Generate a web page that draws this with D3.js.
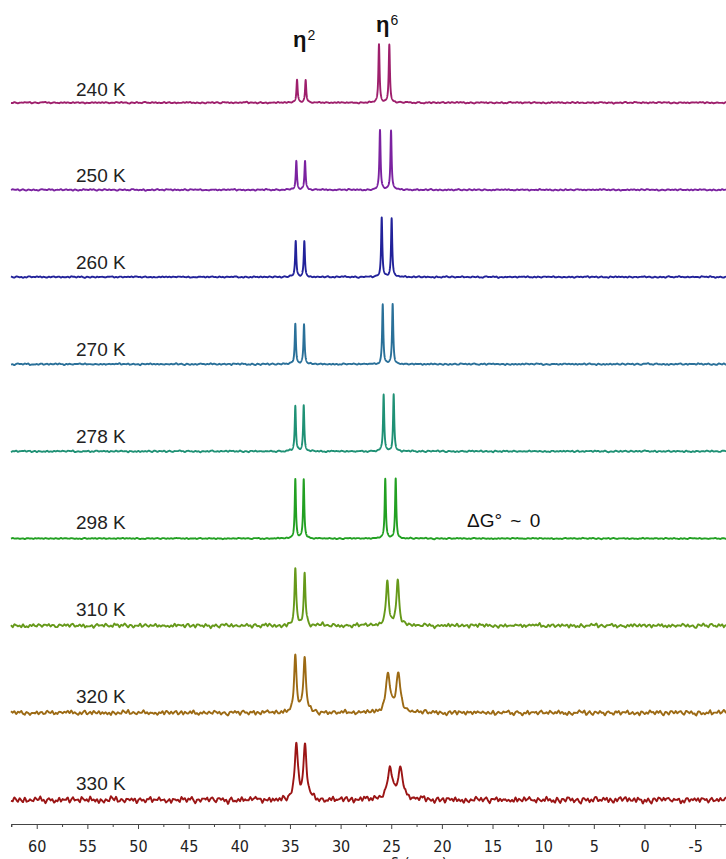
<!DOCTYPE html>
<html>
<head>
<meta charset="utf-8">
<script src="https://cdn.jsdelivr.net/npm/d3@7"></script>
<style>
    body { margin: 0; background: #fff; }
    svg { display: block; }
</style>
</head>
<body>
<div id="chart"></div>
<script>

// temperatures, top to bottom
const temps = ["240 K", "250 K", "260 K", "270 K", "278 K", "298 K", "310 K", "320 K", "330 K"];
const colors = ["#9e1f6c", "#7b22a0", "#22229a", "#2a7099", "#1f9175", "#22a022", "#66991a", "#9c6a14", "#9b1515"];

// eta2 doublet: positions (ppm), heights (relative), half widths (ppm)
const eta2Pos = [[34.30, 33.45], [34.37, 33.51], [34.43, 33.58], [34.47, 33.61], [34.47, 33.64],
                 [34.47, 33.64], [34.47, 33.55], [34.47, 33.55], [34.37, 33.51]];
const eta2Height = [[0.40, 0.40], [0.50, 0.50], [0.61, 0.61], [0.69, 0.69], [0.78, 0.78],
                    [1.02, 1.02], [0.98, 0.91], [0.97, 0.94], [0.96, 0.96]];
const eta2Width = [0.07, 0.07, 0.07, 0.07, 0.07, 0.07, 0.10, 0.15, 0.18];

// eta6 doublet
const eta6Pos = [[26.21, 25.19], [26.11, 25.02], [25.94, 24.96], [25.84, 24.86], [25.75, 24.76],
                 [25.59, 24.56], [25.39, 24.36], [25.32, 24.30], [25.12, 24.11]];
const eta6Height = [[1.00, 1.00], [1.03, 1.03], [1.02, 1.02], [1.02, 1.02], [0.98, 0.98],
                    [1.03, 1.03], [0.76, 0.76], [0.67, 0.63], [0.53, 0.49]];
const eta6Width = [0.07, 0.07, 0.07, 0.07, 0.07, 0.07, 0.16, 0.25, 0.30];

// baseline noise level per spectrum
const noiseLevel = [0.011, 0.011, 0.011, 0.012, 0.012, 0.009, 0.03, 0.034, 0.045];

// hand typed ripple tables for the baseline
const rippleA = [0.3, -0.5, 0.8, -0.2, -0.9, 0.4, 0.1, -0.6, 0.7, 0.2, -0.3, 0.9, -0.7, 0.0, 0.5, -0.4, -0.8,
                 0.6, 0.3, -0.1, 0.8, -0.5, 0.2, -0.9, 0.4, 0.7, -0.3, 0.1, -0.6, 0.5, -0.2, 0.9, -0.8, 0.3,
                 0.0, -0.4, 0.6, -0.7, 0.2, 0.8, -0.5, -0.1, 0.4, -0.9, 0.7, 0.1, -0.3, 0.5, -0.6, 0.9, -0.2,
                 0.3, -0.8];
const rippleB = [-0.4, 0.7, 0.1, -0.8, 0.5, -0.2, 0.9, -0.6, 0.3, 0.0, -0.7, 0.6, -0.1, 0.4, -0.9, 0.8, -0.3,
                 0.2, -0.5, 0.7, -0.8, 0.1, 0.5, -0.4, 0.9, -0.2, -0.6, 0.3, 0.8, -0.7, 0.0, 0.4, -0.3, 0.6,
                 -0.9, 0.2, 0.5];

const majorTicks = [60, 55, 50, 45, 40, 35, 30, 25, 20, 15, 10, 5, 0, -5];
const minorTicks = [62.5, 57.5, 52.5, 47.5, 42.5, 37.5, 32.5, 27.5, 22.5, 17.5, 12.5, 7.5, 2.5, -2.5, -7.5];

const width = 726, height = 859;
const ppmLeft = 62.54, ppmRight = -8.05, step = 0.01;

const x = d3.scaleLinear().domain([ppmLeft, ppmRight]).range([11, 726]);
const base = d3.scalePoint().domain(temps).range([102.7, 800]);
const labelY = d3.scalePoint().domain(temps).range([89, 783]);
const yI = d3.scaleLinear().domain([0, 1]).range([0, 58]);

function lerpTable(table, k, span, shift) {
    const j = Math.floor(k / span), t = (k % span) / span;
    const a = table[(j + shift) % table.length], b = table[(j + 1 + shift) % table.length];
    return a * (1 - t) + b * t;
}

function ripple(k, i) {
    return lerpTable(rippleA, k, 17, 7 * i)
        + 0.6 * lerpTable(rippleB, k, 29, 11 * i)
        + 0.5 * lerpTable(rippleB, k, 110, 5 * i + 3);
}

function spectrum(i) {
    const peaks = [
        [eta2Pos[i][0], eta2Height[i][0], eta2Width[i]],
        [eta2Pos[i][1], eta2Height[i][1], eta2Width[i]],
        [eta6Pos[i][0], eta6Height[i][0], eta6Width[i]],
        [eta6Pos[i][1], eta6Height[i][1], eta6Width[i]]
    ];
    const n = Math.round((ppmLeft - ppmRight) / step);
    const pts = [];
    for (let k = 0; k <= n; k++) {
        const d = ppmLeft - k * step;
        let v = 0;
        for (const [c, h, g] of peaks) v += h * g * g / (g * g + (d - c) * (d - c));
        v += noiseLevel[i] * ripple(k, i);
        pts.push([d, v]);
    }
    return pts;
}

const svg = d3.create("svg")
    .attr("width", width)
    .attr("height", height);

svg.append("rect")
    .attr("width", width)
    .attr("height", height)
    .attr("fill", "#fff");

const traces = svg.append("g").attr("id", "traces");

temps.forEach((t, i) => {
    const line = d3.line()
        .x(d => x(d[0]))
        .y(d => base(t) - yI(d[1]));
    traces.append("path")
        .datum(spectrum(i))
        .attr("d", line)
        .attr("fill", "none")
        .attr("stroke", colors[i])
        .attr("stroke-width", 1.9)
        .attr("stroke-linejoin", "round");
});

svg.append("g")
    .selectAll(null)
    .data(temps)
    .join("text")
    .attr("x", 76)
    .attr("y", d => labelY(d))
    .attr("dominant-baseline", "central")
    .attr("font-family", "'Liberation Sans', Arial, sans-serif")
    .attr("font-size", 19)
    .attr("fill", "#222")
    .text(d => d);

// peak labels
const etaLabels = [["2", 293, 46.5], ["6", 376, 32]];
etaLabels.forEach(([sup, lx, ly]) => {
    const txt = svg.append("text")
        .attr("x", lx)
        .attr("y", ly)
        .attr("font-family", "'Liberation Sans', Arial, sans-serif")
        .attr("font-weight", "bold")
        .attr("font-size", 22)
        .attr("fill", "#111");
    txt.append("tspan").text("η");
    txt.append("tspan")
        .attr("font-size", 14)
        .attr("font-weight", "normal")
        .attr("dy", -7)
        .attr("dx", 1)
        .text(sup);
});

svg.append("text")
    .attr("x", 467)
    .attr("y", 527)
    .attr("font-family", "'Liberation Sans', Arial, sans-serif")
    .attr("font-size", 19)
    .attr("word-spacing", 3)
    .attr("fill", "#111")
    .text("ΔG° ~ 0");

// axis
const axisY = 824;
const axisG = svg.append("g")
    .attr("transform", `translate(0,${axisY})`)
    .call(d3.axisBottom(x).tickValues(majorTicks).tickSize(5).tickSizeOuter(3).tickPadding(12)
        .tickFormat(d => String(d)));
axisG.select(".domain").attr("stroke", "#444");
axisG.selectAll(".tick line").attr("stroke", "#444");
axisG.selectAll(".tick text")
    .attr("font-family", "'DejaVu Sans Condensed', 'DejaVu Sans', sans-serif")
    .attr("font-size", 16)
    .attr("fill", "#222");

const minorG = svg.append("g")
    .attr("transform", `translate(0,${axisY})`)
    .call(d3.axisBottom(x).tickValues(minorTicks).tickSize(3).tickFormat(""));
minorG.select(".domain").remove();
minorG.selectAll(".tick line").attr("stroke", "#444");

svg.append("text")
    .attr("x", 419)
    .attr("y", 869)
    .attr("text-anchor", "middle")
    .attr("font-family", "'DejaVu Sans Condensed', 'DejaVu Sans', sans-serif")
    .attr("font-size", 16)
    .attr("fill", "#222")
    .text("δ (ppm)");

document.getElementById("chart").append(svg.node());
</script>
</body>
</html>
